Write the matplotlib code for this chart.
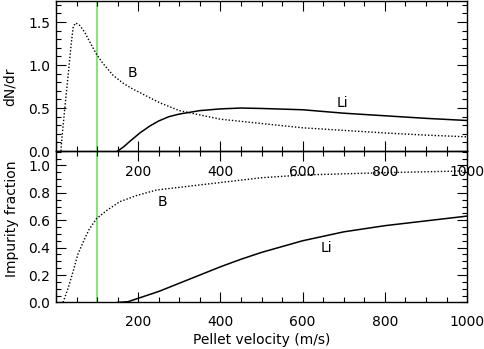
import matplotlib
matplotlib.use('Agg')
import matplotlib.pyplot as plt
from matplotlib.ticker import MultipleLocator, FixedLocator, FuncFormatter

# dN/dr panel (top)
b_dn_x = [12, 14, 21, 29, 37, 42, 48, 58, 70, 82, 98, 114, 139, 163, 187, 200, 228, 253,
          300, 350, 400, 450, 500, 600, 700, 800, 900, 1000]
b_dn_y = [0.0, 0.13, 0.48, 0.86, 1.25, 1.45, 1.49, 1.46, 1.38, 1.27, 1.13, 1.02, 0.88,
          0.79, 0.72, 0.69, 0.62, 0.56, 0.47, 0.42, 0.37, 0.345, 0.32, 0.27, 0.24, 0.21, 0.185, 0.165]
li_dn_x = [150, 165, 179, 204, 228, 250, 275, 300, 350, 400, 450, 500, 600, 700, 800, 900, 1000]
li_dn_y = [0.0, 0.05, 0.11, 0.21, 0.29, 0.35, 0.40, 0.43, 0.47, 0.49, 0.50, 0.495, 0.48, 0.44,
           0.41, 0.38, 0.355]

# impurity fraction panel (bottom)
b_fr_x = [17, 29, 41, 53, 66, 80, 98, 123, 155, 196, 244, 300, 400, 500, 600, 800, 1000]
b_fr_y = [0.0, 0.10, 0.22, 0.35, 0.44, 0.53, 0.61, 0.67, 0.735, 0.78, 0.82, 0.84, 0.875, 0.91, 0.93,
          0.947, 0.96]
li_fr_x = [150, 175, 200, 250, 300, 350, 400, 450, 500, 600, 700, 800, 900, 1000]
li_fr_y = [0.0, 0.005, 0.03, 0.08, 0.14, 0.20, 0.26, 0.315, 0.365, 0.45, 0.515, 0.56, 0.595, 0.63]

v_mark = 100
x_ticks = [0, 200, 400, 600, 800, 1000]

plt.rcParams['font.family'] = 'DejaVu Sans'
plt.rcParams['font.size'] = 10

fig = plt.figure(figsize=(4.85, 3.49), dpi=100)
ax1 = fig.add_axes([0.1155, 0.5673, 0.8475, 0.4310])
ax2 = fig.add_axes([0.1155, 0.1335, 0.8475, 0.4338])
ax1.set_zorder(3)
for ax in (ax1, ax2):
    ax.patch.set_visible(False)
    ax.set_xlim(0, 1000)
    ax.xaxis.set_major_locator(FixedLocator(x_ticks))
    ax.xaxis.set_minor_locator(MultipleLocator(50))
    ax.xaxis.set_major_formatter(FuncFormatter(lambda v, p: '' if v == 0 else '%d' % v))
    ax.tick_params(which='both', direction='in', top=True, right=True, width=0.8, color='black')
    ax.tick_params(which='major', length=7)
    ax.tick_params(which='minor', length=3.5)
    ax.tick_params(axis='y', pad=4)
    for s in ax.spines.values():
        s.set_linewidth(1.0)
    ax.axvline(v_mark, color='#78e46c', lw=1.3, zorder=1)

ax1.set_ylim(0, 1.75)
ax1.yaxis.set_major_locator(MultipleLocator(0.5))
ax1.yaxis.set_minor_locator(MultipleLocator(0.1))
ax1.yaxis.set_major_formatter(FuncFormatter(lambda v, p: '%.1f' % v))
ax1.tick_params(axis='x', pad=10)
ax1.plot(b_dn_x, b_dn_y, color='black', lw=1.0, linestyle=(0, (1, 1.4)))
ax1.plot(li_dn_x, li_dn_y, color='black', lw=1.1)
ax1.text(185, 0.91, 'B', ha='center', va='center')
ax1.text(698, 0.56, 'Li', ha='center', va='center')
ax1.set_ylabel('dN/dr', va='center')
ax1.yaxis.set_label_coords(-0.112, 0.43)

ax2.set_ylim(0, 1.105)
ax2.yaxis.set_major_locator(FixedLocator([0, 0.2, 0.4, 0.6, 0.8, 1.0]))
ax2.yaxis.set_minor_locator(MultipleLocator(0.05))
ax2.yaxis.set_major_formatter(FuncFormatter(lambda v, p: '%.1f' % v))
ax2.tick_params(axis='x', pad=9.4)
ax2.plot(b_fr_x, b_fr_y, color='black', lw=1.0, linestyle=(0, (1, 1.4)))
ax2.plot(li_fr_x, li_fr_y, color='black', lw=1.1)
ax2.text(258, 0.733, 'B', ha='center', va='center')
ax2.text(659, 0.40, 'Li', ha='center', va='center')
ax2.set_ylabel('Impurity fraction', va='center')
ax2.yaxis.set_label_coords(-0.108, 0.55)
ax2.set_xlabel('Pellet velocity (m/s)', va='top')
ax2.xaxis.set_label_coords(0.5, -0.205)

fig.savefig('out.png', dpi=100)
